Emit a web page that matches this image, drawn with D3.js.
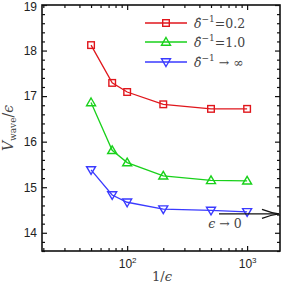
<!DOCTYPE html>
<html>
<head>
<meta charset="utf-8">
<script src="https://cdn.jsdelivr.net/npm/d3@7"></script>
<style>
  body { margin: 0; background: #fff; }
  .tick text { font-family: "Liberation Sans", Arial, sans-serif; font-size: 12px; fill: #222; }
</style>
</head>
<body>
<svg id="chart" width="284" height="286"></svg>
<script>
var invEps = [50, 75, 100, 200, 500, 1000];
var valsRed = [18.12, 17.29, 17.09, 16.82, 16.72, 16.72];
var valsGreen = [16.86, 15.81, 15.54, 15.25, 15.15, 15.14];
var valsBlue = [15.38, 14.83, 14.67, 14.52, 14.49, 14.46];
var seriesNames = ["0.2", "1.0", "inf"];
var seriesColors = ["#e0161c", "#19d11b", "#3a3aff"];
var yTicks = [14, 15, 16, 17, 18, 19];
var xTicks = [100, 1000];

var width = 284, height = 286;
var margin = { top: 5, right: 4, bottom: 35, left: 42 };
var serif = "'DejaVu Serif', serif";

var svg = d3.select("#chart");
var x = d3.scaleLog().domain([19.5, 1880]).range([margin.left, width - margin.right]);
var y = d3.scaleLinear().domain([13.6, 19]).range([height - margin.bottom, margin.top]);

// minor tick values
var xMinor = [];
[10, 100, 1000].forEach(function (b) {
  for (var k = 2; k < 10; k++) {
    var v = b * k;
    if (v > 19.5 && v < 1880 && xTicks.indexOf(v) < 0) xMinor.push(v);
  }
});
var yMinor = d3.range(13.6, 19.01, 0.2).map(function (v) { return +v.toFixed(1); })
  .filter(function (v) { return yTicks.indexOf(v) < 0; });

function styleAxis(g) {
  g.select(".domain").remove();
  g.selectAll(".tick line").attr("stroke", "#111").attr("stroke-width", 1.2);
}

// bottom
svg.append("g").attr("transform", "translate(0," + y.range()[0] + ")")
  .call(d3.axisBottom(x).tickValues(xTicks).tickSize(-5).tickPadding(6).tickFormat(""))
  .call(styleAxis)
  .selectAll(".tick").append("text")
  .attr("y", 17).attr("text-anchor", "middle").attr("fill", "#222")
  .each(function (d) {
    var t = d3.select(this);
    t.append("tspan").text("10");
    t.append("tspan").attr("dy", -5).attr("font-size", "8px").text(Math.round(Math.log10(d)));
  });
svg.append("g").attr("transform", "translate(0," + y.range()[0] + ")")
  .call(d3.axisBottom(x).tickValues(xMinor).tickSize(-3).tickFormat(""))
  .call(styleAxis);
// top
svg.append("g").attr("transform", "translate(0," + margin.top + ")")
  .call(d3.axisTop(x).tickValues(xTicks).tickSize(-5).tickFormat(""))
  .call(styleAxis);
svg.append("g").attr("transform", "translate(0," + margin.top + ")")
  .call(d3.axisTop(x).tickValues(xMinor).tickSize(-3).tickFormat(""))
  .call(styleAxis);
// left
svg.append("g").attr("transform", "translate(" + margin.left + ",0)")
  .call(d3.axisLeft(y).tickValues(yTicks).tickSize(-5).tickPadding(6).tickFormat(d3.format("d")))
  .call(styleAxis)
  .selectAll(".tick text").attr("x", -5)
  .attr("dy", function (d) { return d === 19 ? "0.42em" : "0.32em"; });
svg.append("g").attr("transform", "translate(" + margin.left + ",0)")
  .call(d3.axisLeft(y).tickValues(yMinor).tickSize(-3).tickFormat(""))
  .call(styleAxis);
// right
svg.append("g").attr("transform", "translate(" + (width - margin.right) + ",0)")
  .call(d3.axisRight(y).tickValues(yTicks).tickSize(-5).tickFormat(""))
  .call(styleAxis);
svg.append("g").attr("transform", "translate(" + (width - margin.right) + ",0)")
  .call(d3.axisRight(y).tickValues(yMinor).tickSize(-3).tickFormat(""))
  .call(styleAxis);

// frame
svg.append("rect")
  .attr("x", margin.left).attr("y", margin.top)
  .attr("width", width - margin.left - margin.right)
  .attr("height", height - margin.top - margin.bottom)
  .attr("fill", "none").attr("stroke", "#111").attr("stroke-width", 1.6);

// series
var allSeries = [valsRed, valsGreen, valsBlue];
var line = d3.line().x(function (d) { return x(d[0]); }).y(function (d) { return y(d[1]); });

function marker(g, kind, cx, cy, color) {
  if (kind === 0) {
    g.append("rect").attr("x", cx - 3.3).attr("y", cy - 3.3).attr("width", 6.6).attr("height", 6.6)
      .attr("fill", "none").attr("stroke", color).attr("stroke-width", 1.4);
  } else if (kind === 1) {
    g.append("path").attr("d", "M" + cx + "," + (cy - 4.5) + "L" + (cx + 4.5) + "," + (cy + 3.2) + "L" + (cx - 4.5) + "," + (cy + 3.2) + "Z")
      .attr("fill", "none").attr("stroke", color).attr("stroke-width", 1.4);
  } else {
    g.append("path").attr("d", "M" + cx + "," + (cy + 4.5) + "L" + (cx + 4.5) + "," + (cy - 3.2) + "L" + (cx - 4.5) + "," + (cy - 3.2) + "Z")
      .attr("fill", "none").attr("stroke", color).attr("stroke-width", 1.4);
  }
}

allSeries.forEach(function (vals, i) {
  var pts = invEps.map(function (e, j) { return [e, vals[j]]; });
  var g = svg.append("g");
  g.append("path").datum(pts).attr("d", line)
    .attr("fill", "none").attr("stroke", seriesColors[i]).attr("stroke-width", 1.3);
  pts.forEach(function (p) { marker(g, i, x(p[0]), y(p[1]), seriesColors[i]); });
});

// legend
var legY = [23, 42, 62];
seriesNames.forEach(function (n, i) {
  var g = svg.append("g");
  g.append("line").attr("x1", 145).attr("x2", 187).attr("y1", legY[i]).attr("y2", legY[i])
    .attr("stroke", seriesColors[i]).attr("stroke-width", 1.3);
  marker(g, i, 166, legY[i], seriesColors[i]);
  var t = g.append("text").attr("x", 194).attr("y", legY[i] + 5)
    .attr("font-family", serif).attr("font-size", "12.5px").attr("fill", "#444");
  t.append("tspan").attr("font-style", "italic").text("\u03B4\u0302");
  t.append("tspan").attr("dy", -6).attr("font-size", "9px").text("\u22121");
  if (n === "inf") {
    t.append("tspan").attr("dy", 6).text(" \u2192 \u221E");
  } else {
    t.append("tspan").attr("dy", 6).text("=" + n);
  }
});

// arrow eps -> 0
var ay = y(valsBlue[5]) + 2;
svg.append("path")
  .attr("d", "M219," + ay + "L279," + ay)
  .attr("stroke", "#111").attr("stroke-width", 1.3).attr("fill", "none");
svg.append("path")
  .attr("d", "M262," + (ay - 4.5) + "Q271," + (ay - 1) + " 279," + ay + "Q271," + (ay + 1) + " 262," + (ay + 4.5))
  .attr("stroke", "#111").attr("stroke-width", 1.3).attr("fill", "none");
var et = svg.append("text").attr("x", 225).attr("y", 228)
  .attr("font-family", serif).attr("fill", "#444")
  .attr("text-anchor", "middle").attr("font-size", "12.5px");
et.append("tspan").attr("font-style", "italic").text("\u03F5");
et.append("tspan").text(" \u2192 0");

// axis titles
var xt = svg.append("text").attr("x", 162).attr("y", 281)
  .attr("font-family", serif).attr("fill", "#444")
  .attr("text-anchor", "middle").attr("font-size", "13px");
xt.append("tspan").text("1/");
xt.append("tspan").attr("font-style", "italic").text("\u03F5");

var yt = svg.append("text")
  .attr("transform", "translate(13,128) rotate(-90)")
  .attr("font-family", serif).attr("fill", "#444")
  .attr("text-anchor", "middle").attr("font-size", "14px");
yt.append("tspan").attr("font-style", "italic").text("V");
yt.append("tspan").attr("dy", 3).attr("font-size", "9px").text("wave");
yt.append("tspan").attr("dy", -3).text("/");
yt.append("tspan").attr("font-style", "italic").text("\u03F5");
</script>
</body>
</html>
